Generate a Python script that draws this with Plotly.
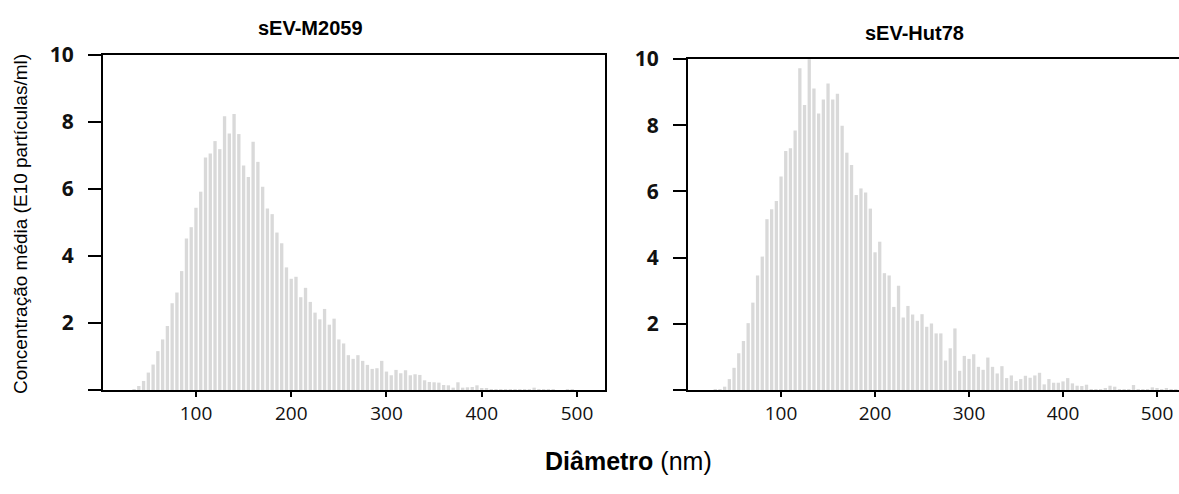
import plotly.graph_objects as go

# Bin centres (nm)
diametro_nm = [30, 35, 40, 45, 50, 55, 60, 65, 70, 75, 80, 85, 90, 95, 100, 105, 110, 115, 120, 125,
               130, 135, 140, 145, 150, 155, 160, 165, 170, 175, 180, 185, 190, 195, 200, 205, 210, 215, 220, 225,
               230, 235, 240, 245, 250, 255, 260, 265, 270, 275, 280, 285, 290, 295, 300, 305, 310, 315, 320, 325,
               330, 335, 340, 345, 350, 355, 360, 365, 370, 375, 380, 385, 390, 395, 400, 405, 410, 415, 420, 425,
               430, 435, 440, 445, 450, 455, 460, 465, 470, 475, 480, 485, 490, 495, 500, 505, 510, 515, 520]

# sEV-M2059 mean concentration (E10 particles/ml)
m2059 = [0.0, 0.03, 0.12, 0.27, 0.52, 0.76, 1.16, 1.51, 1.91, 2.59, 2.91, 3.55, 4.52, 4.86, 5.44, 5.92, 6.94, 7.06, 7.43, 7.19,
         8.17, 7.66, 8.24, 7.64, 6.70, 6.36, 7.41, 6.81, 6.07, 5.42, 5.25, 4.70, 4.38, 3.66, 3.32, 3.38, 2.77, 3.05, 2.63, 2.31,
         2.11, 2.42, 1.95, 2.13, 1.51, 1.39, 1.04, 0.93, 1.04, 0.87, 0.75, 0.63, 0.65, 0.87, 0.55, 0.44, 0.60, 0.50, 0.59, 0.44,
         0.47, 0.45, 0.29, 0.24, 0.23, 0.22, 0.15, 0.14, 0.07, 0.23, 0.07, 0.08, 0.09, 0.14, 0.05, 0.04, 0.02, 0.02, 0.01, 0.01,
         0.02, 0.01, 0.01, 0.02, 0.03, 0.07, 0.02, 0.01, 0.01, 0.01, 0.0, 0.0, 0.01, 0.01, 0.0, 0.0, 0.0, 0.0, 0.0]

# sEV-Hut78 mean concentration (E10 particles/ml)
hut78 = [0.01, 0.03, 0.10, 0.33, 0.67, 1.11, 1.48, 2.02, 2.64, 3.46, 4.03, 5.16, 5.46, 5.71, 6.45, 7.22, 7.30, 7.84, 9.72, 8.61,
         9.99, 9.11, 8.35, 8.78, 9.26, 8.78, 8.95, 7.98, 7.17, 6.80, 5.89, 6.09, 5.97, 5.48, 4.16, 4.48, 3.53, 3.46, 2.51, 3.15,
         2.19, 2.54, 2.28, 2.09, 2.29, 1.91, 2.01, 1.71, 1.71, 0.89, 1.26, 1.86, 0.58, 1.03, 0.94, 1.08, 0.70, 0.61, 0.98, 0.70,
         0.50, 0.72, 0.36, 0.44, 0.27, 0.33, 0.43, 0.37, 0.44, 0.52, 0.17, 0.33, 0.22, 0.22, 0.26, 0.36, 0.20, 0.13, 0.12, 0.16,
         0.02, 0.01, 0.02, 0.05, 0.13, 0.10, 0.02, 0.01, 0.02, 0.15, 0.02, 0.01, 0.02, 0.08, 0.06, 0.02, 0.05, 0.02, 0.01]

x_ticks = [100, 200, 300, 400, 500]
y_ticks = [0, 2, 4, 6, 8, 10]
y_ticktext = ["", "2", "4", "6", "8", "10"]

titles = ["sEV-M2059", "sEV-Hut78"]
y_title = "Concentração média (E10 partículas/ml)"
x_title = "<b>Diâmetro</b> (nm)"

W, H = 1179, 494
BAR = "#d9d9d9"
ARIAL = "Liberation Sans, Arial, sans-serif"

fig = go.Figure()
fig.add_trace(go.Bar(x=diametro_nm, y=m2059, marker=dict(color=BAR, line=dict(width=0)),
                     xaxis="x", yaxis="y", showlegend=False))
fig.add_trace(go.Bar(x=diametro_nm, y=hut78, marker=dict(color=BAR, line=dict(width=0)),
                     xaxis="x2", yaxis="y2", showlegend=False))

def px_x(v):
    return v / W

def px_y(v):
    return 1 - v / H

xcommon = dict(showline=True, linewidth=2, linecolor="black", mirror=True, ticks="outside",
               ticklen=5, tickwidth=2, tickcolor="black", tickvals=x_ticks, showgrid=False, zeroline=False,
               automargin=False,
               tickfont=dict(family="Open Sans", size=19, color="#111"), ticklabelstandoff=0)
ycommon = dict(showline=True, linewidth=2, linecolor="black", ticks="outside", ticklen=13, tickwidth=2,
               tickcolor="black", tickvals=y_ticks, ticktext=y_ticktext, range=[0, 10], showgrid=False,
               zeroline=False, automargin=False,
               tickfont=dict(family="Open Sans", size=21, color="#111", weight="bold"),
               ticklabelstandoff=10)

fig.update_layout(
    width=W, height=H, margin=dict(l=0, r=0, t=0, b=0, pad=0, autoexpand=False),
    plot_bgcolor="white", paper_bgcolor="white", bargap=0.3,
    xaxis=dict(domain=[px_x(103), px_x(605)], range=[2.4, 529.4], anchor="y", **xcommon),
    yaxis=dict(domain=[px_y(390), px_y(55)], anchor="x", mirror=True, **ycommon),
    xaxis2=dict(domain=[px_x(688), 1.0], range=[1.0, 523.4], anchor="y2", **xcommon),
    yaxis2=dict(domain=[px_y(390), px_y(59)], anchor="x2", mirror=False, **ycommon),
)

fig.add_annotation(text="<b>%s</b>" % titles[0], x=px_x(310), y=px_y(28), xref="paper", yref="paper",
                   showarrow=False, xanchor="center", yanchor="middle",
                   font=dict(family=ARIAL, size=20, color="black"))
fig.add_annotation(text="<b>%s</b>" % titles[1], x=px_x(914), y=px_y(33), xref="paper", yref="paper",
                   showarrow=False, xanchor="center", yanchor="middle",
                   font=dict(family=ARIAL, size=20, color="black"))
fig.add_annotation(text=y_title, x=px_x(20), y=px_y(224), xref="paper", yref="paper", textangle=-90,
                   showarrow=False, xanchor="center", yanchor="middle",
                   font=dict(family=ARIAL, size=19, color="black"))
fig.add_annotation(text=x_title, x=px_x(628), y=px_y(461), xref="paper", yref="paper",
                   showarrow=False, xanchor="center", yanchor="middle",
                   font=dict(family=ARIAL, size=25, color="black"))

fig.write_html("out.html")
